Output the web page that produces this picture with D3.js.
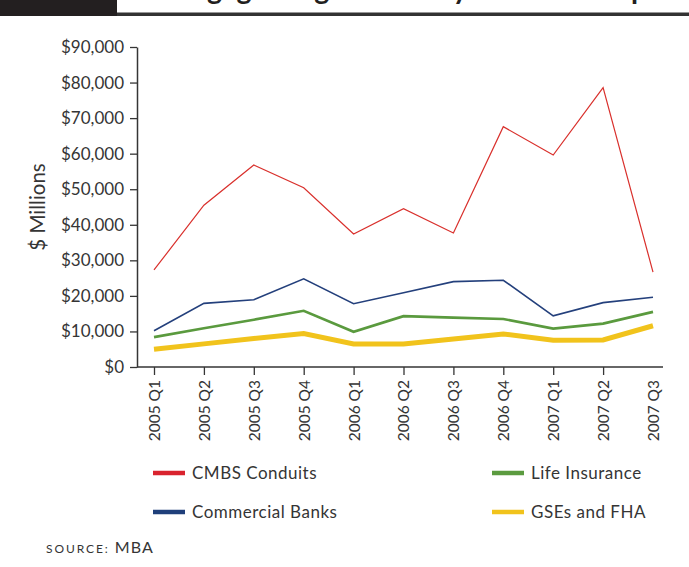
<!DOCTYPE html>
<html>
<head>
<meta charset="utf-8">
<script src="https://cdn.jsdelivr.net/npm/d3@7"></script>
<style>
  html, body { margin: 0; padding: 0; background: #fff; }
  svg { display: block; font-family: Lato, "Open Sans", sans-serif; }
</style>
</head>
<body>
<div id="chart"></div>
<script>
// Quarterly commercial mortgage originations, $ millions
const quarters = ["2005 Q1","2005 Q2","2005 Q3","2005 Q4","2006 Q1","2006 Q2","2006 Q3","2006 Q4","2007 Q1","2007 Q2","2007 Q3"];
const cmbsConduits    = [27300, 45500, 56800, 50400, 37400, 44500, 37700, 67600, 59600, 78600, 26700];
const commercialBanks = [10200, 17900, 18900, 24800, 17800, 20900, 24000, 24400, 14400, 18100, 19600];
const lifeInsurance   = [ 8400, 10900, 13300, 15800,  9900, 14300, 13900, 13500, 10800, 12200, 15500];
const gsesAndFha      = [ 5000,  6500,  8000,  9400,  6500,  6500,  7900,  9300,  7500,  7600, 11600];
const yTicks = [0, 10000, 20000, 30000, 40000, 50000, 60000, 70000, 80000, 90000];
const seriesNames = ["CMBS Conduits", "Commercial Banks", "Life Insurance", "GSEs and FHA"];

const series = [
  { name: seriesNames[0], values: cmbsConduits,    color: "#d9302c", width: 1.2, swatch: "#d9232e" },
  { name: seriesNames[1], values: commercialBanks, color: "#24407c", width: 1.6, swatch: "#1f3f7a" },
  { name: seriesNames[2], values: lifeInsurance,   color: "#5a9a3e", width: 2.6, swatch: "#5b9b3f" },
  { name: seriesNames[3], values: gsesAndFha,      color: "#f1c31c", width: 5,   swatch: "#f1c31c" }
];

const W = 689, H = 567;
const margin = { top: 47, left: 137 };
const plotW = 526, plotH = 320;
const ink = "#353535";

const svg = d3.select("#chart").append("svg")
  .attr("width", W).attr("height", H);

// Header band (title runs above the top edge of the page)
svg.append("rect").attr("x", 0).attr("y", 0).attr("width", 117).attr("height", 16).attr("fill", "#231f20");
svg.append("rect").attr("x", 117).attr("y", 12.5).attr("width", W - 117).attr("height", 3.5).attr("fill", "#333");
svg.append("text")
  .attr("x", 143).attr("y", -1.5)
  .attr("font-size", 28.5).attr("font-weight", 700).attr("fill", "#231f20")
  .text("Mortgage Originations by Lender Group");

const g = svg.append("g").attr("transform", `translate(${margin.left},${margin.top})`);

const x = d3.scalePoint().domain(quarters).range([17, 516]);
const y = d3.scaleLinear().domain([0, 90000]).range([plotH, 0]);

// Y axis
const yAxis = g.append("g")
  .call(d3.axisLeft(y).tickValues(yTicks).tickSize(7).tickSizeOuter(0).tickPadding(6)
    .tickFormat(d => "$" + d3.format(",")(d)));
yAxis.select(".domain").attr("stroke", ink).attr("stroke-width", 1.5);
yAxis.selectAll(".tick line").attr("stroke", ink).attr("stroke-width", 1.3);
yAxis.selectAll(".tick text").attr("font-size", 17).attr("fill", ink).attr("font-family", "Lato, sans-serif");

// X axis baseline
g.append("line").attr("x1", 0).attr("x2", plotW).attr("y1", plotH).attr("y2", plotH)
  .attr("stroke", ink).attr("stroke-width", 1.5);

const xAxis = g.append("g").attr("transform", `translate(0,${plotH})`)
  .call(d3.axisBottom(x).tickSize(8).tickSizeOuter(0));
xAxis.select(".domain").remove();
xAxis.selectAll(".tick line").attr("stroke", ink).attr("stroke-width", 1.3)
  .filter(d => d === quarters[quarters.length - 1]).remove();
xAxis.selectAll(".tick text")
  .attr("transform", "rotate(-90)")
  .attr("text-anchor", "end")
  .attr("x", -13).attr("y", 0).attr("dy", "0.35em")
  .attr("font-size", 15.5).attr("fill", ink).attr("font-family", "Lato, sans-serif");

// Y axis title
g.append("text")
  .attr("transform", `translate(${38 - margin.left},${207 - margin.top}) rotate(-90)`)
  .attr("text-anchor", "middle").attr("dy", "0.35em")
  .attr("font-size", 20.5).attr("fill", ink)
  .text("$ Millions");

// Lines (thickest drawn first)
const line = d3.line().x((d, i) => x(quarters[i])).y(d => y(d));
[...series].reverse().forEach(s => {
  g.append("path").datum(s.values)
    .attr("d", line)
    .attr("fill", "none")
    .attr("stroke", s.color)
    .attr("stroke-width", s.width)
    .attr("stroke-linejoin", "miter");
});

// Legend
const legendPos = [[153, 473], [153, 512], [492, 473], [492, 512]];
series.forEach((s, i) => {
  const [lx, ly] = legendPos[i];
  svg.append("line").attr("x1", lx).attr("x2", lx + 32).attr("y1", ly).attr("y2", ly)
    .attr("stroke", s.swatch).attr("stroke-width", 4.5);
  svg.append("text").attr("x", lx + 39).attr("y", ly).attr("dy", "0.35em")
    .attr("font-size", 17).attr("fill", ink).attr("letter-spacing", 0.5)
    .text(s.name);
});

// Source note
const src = svg.append("text").attr("x", 46).attr("y", 553).attr("fill", ink);
src.append("tspan").attr("font-size", 12).attr("letter-spacing", 1.9).text("SOURCE:");
src.append("tspan").attr("dx", 5).attr("font-size", 16).attr("letter-spacing", 1.2).text("MBA");
</script>
</body>
</html>
